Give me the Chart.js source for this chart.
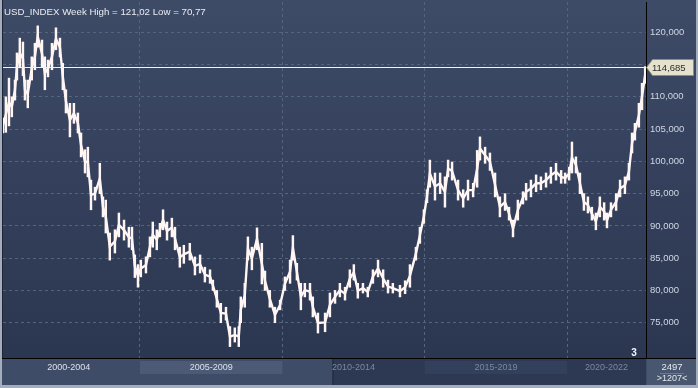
<!DOCTYPE html>
<html>
<head>
<meta charset="utf-8">
<script src="https://cdn.jsdelivr.net/npm/chart.js@4/dist/chart.umd.min.js"></script>
<style>
html,body{margin:0;padding:0;background:#2c3751;}
#wrap{width:698px;height:388px;position:relative;}
</style>
</head>
<body>
<div id="wrap"><canvas id="c" width="698" height="388"></canvas></div>
<script>
// ---- data (weekly USD index, high/low envelope) ----
const years = [2000.19,2000.29,2000.40,2000.50,2000.61,2000.68,2000.78,2000.89,2000.96,2001.06,2001.20,2001.31,2001.41,2001.56,2001.66,2001.77,2001.91,2002.05,2002.19,2002.29,2002.40,2002.54,2002.68,2002.82,2002.93,2003.07,2003.17,2003.28,2003.42,2003.59,2003.70,2003.80,2003.94,2004.12,2004.26,2004.44,2004.61,2004.72,2004.82,2004.93,2005.03,2005.21,2005.35,2005.45,2005.59,2005.70,2005.81,2005.95,2006.12,2006.23,2006.40,2006.54,2006.75,2006.93,2007.11,2007.28,2007.46,2007.56,2007.70,2007.84,2008.02,2008.16,2008.33,2008.47,2008.54,2008.68,2008.79,2008.93,2009.11,2009.28,2009.39,2009.56,2009.74,2009.92,2010.09,2010.27,2010.37,2010.51,2010.65,2010.79,2010.97,2011.07,2011.25,2011.50,2011.67,2011.85,2012.02,2012.20,2012.37,2012.51,2012.65,2012.83,2013.00,2013.18,2013.36,2013.54,2013.71,2013.88,2014.13,2014.31,2014.48,2014.69,2014.83,2014.97,2015.08,2015.18,2015.36,2015.54,2015.71,2015.82,2015.96,2016.17,2016.35,2016.52,2016.70,2016.84,2016.94,2017.12,2017.29,2017.47,2017.64,2017.82,2017.96,2018.10,2018.27,2018.45,2018.56,2018.73,2018.91,2019.08,2019.26,2019.43,2019.61,2019.79,2019.93,2020.07,2020.17,2020.31,2020.45,2020.59,2020.73,2020.87,2021.01,2021.15,2021.30,2021.40,2021.54,2021.72,2021.86,2022.03,2022.17,2022.28,2022.38,2022.52,2022.63,2022.74];
const highs = [106.7,110.0,112.9,110.0,112.6,116.8,119.1,118.5,112.6,112.6,116.2,118.3,121.0,118.8,116.2,115.7,118.3,120.7,119.1,115.2,111.1,109.0,109.0,107.5,104.4,101.8,102.2,97.1,96.0,99.7,94.5,94.0,88.9,89.4,92.0,90.9,89.8,89.8,85.5,84.0,84.7,85.2,88.3,90.6,89.4,90.4,92.5,90.6,91.2,89.8,86.7,87.0,87.3,85.2,85.5,83.6,83.2,81.6,80.0,78.0,77.4,74.4,74.2,74.4,79.0,81.1,88.3,86.7,89.7,87.3,83.0,80.0,77.4,78.5,82.1,84.7,88.5,84.2,81.1,81.1,81.1,79.0,76.5,76.5,79.6,80.0,81.1,80.5,83.2,84.0,81.1,81.1,80.5,83.2,84.7,83.2,81.6,81.1,80.8,81.5,84.0,86.7,89.8,92.5,95.6,100.2,98.2,98.2,97.6,100.2,99.9,97.1,95.6,97.1,96.6,101.7,103.8,102.2,101.3,98.2,94.5,95.0,92.9,90.9,94.0,95.3,96.6,97.1,97.9,97.6,98.2,99.1,99.7,98.6,98.2,99.1,103.0,100.7,98.2,95.0,94.5,92.9,92.0,94.5,93.6,92.0,93.6,95.0,97.1,97.6,99.7,104.4,105.9,109.0,112.1,114.69];
const lows = [104.4,104.5,105.5,106.9,109.5,112.6,114.5,113.3,109.5,108.3,112.6,114.2,117.7,114.6,111.1,113.1,114.2,117.3,116.2,111.1,107.5,103.8,105.9,104.4,100.7,98.2,97.6,92.5,94.0,95.0,91.4,88.9,84.7,85.8,88.3,87.8,86.7,86.3,82.0,80.5,82.1,82.7,85.2,86.7,86.3,88.3,89.4,87.8,88.3,86.3,83.6,84.2,84.7,82.4,82.7,81.3,81.1,80.0,77.4,75.0,75.4,71.3,72.0,71.3,75.0,77.4,84.7,83.2,86.3,81.0,80.0,77.4,75.0,77.0,80.0,81.1,84.7,81.6,77.0,79.0,78.5,75.9,73.4,73.6,75.9,78.0,79.0,78.5,80.5,81.6,78.8,79.6,79.0,81.1,82.1,80.5,79.6,79.6,79.0,79.5,80.5,84.7,87.3,90.4,93.6,96.0,94.0,95.0,92.9,97.6,97.1,94.0,92.9,94.0,94.5,96.0,100.2,99.7,98.6,94.5,91.4,92.4,90.9,88.3,90.9,93.4,94.0,94.5,95.3,95.6,96.0,96.6,97.1,96.6,96.6,97.1,98.2,98.2,95.0,92.4,92.0,90.9,89.4,91.4,90.9,89.7,91.4,92.4,94.5,95.0,97.1,101.3,103.3,105.3,108.0,112.1];
const priceTicks = [75,80,85,90,95,100,105,110,115,120];
const periodLabels = ['2000-2004','2005-2009','2010-2014','2015-2019','2020-2022'];
const periodStarts = [2000,2005,2010,2015,2020];
const periodEnds = [2005,2010,2015,2020,2022.77];
const lastValue = 114.685;
const lastLabel = '114,685';
const titleText = 'USD_INDEX Week High = 121,02 Low = 70,77';
const counterTop = '2497';
const counterBottom = '>1207<';
const markerText = '3';

const FONT = '"Liberation Sans", Arial, sans-serif';
const INK = '#fff6f4';

const decor = {
  id: 'decor',
  beforeDraw(chart) {
    const ctx = chart.ctx, W = chart.width, H = chart.height, ca = chart.chartArea;
    const xs = chart.scales.x;
    ctx.save();
    const g = ctx.createLinearGradient(0, 0, 0, ca.bottom);
    g.addColorStop(0, '#3e4b67');
    g.addColorStop(1, '#2b3650');
    ctx.fillStyle = g;
    ctx.fillRect(0, 0, W, ca.bottom);
    ctx.fillStyle = '#3f4c67';
    ctx.fillRect(0, ca.bottom, W, H - ca.bottom);
    const darkStart = xs.getPixelForValue(2011.76);
    ctx.fillStyle = '#2d3852';
    ctx.fillRect(darkStart, ca.bottom, ca.right - darkStart, H - ca.bottom);
    ctx.fillStyle = '#1f283c';
    ctx.fillRect(darkStart, ca.bottom, 1, H - ca.bottom);
    ctx.fillStyle = '#4c5a75';
    ctx.fillRect(xs.getPixelForValue(periodStarts[1]), ca.bottom + 3, xs.getPixelForValue(periodEnds[1]) - xs.getPixelForValue(periodStarts[1]), 13);
    ctx.fillStyle = '#33405b';
    ctx.fillRect(xs.getPixelForValue(periodStarts[3]), ca.bottom + 3, xs.getPixelForValue(periodEnds[3]) - xs.getPixelForValue(periodStarts[3]), 13);
    ctx.fillStyle = '#48566f';
    ctx.fillRect(ca.right + 1, ca.bottom, W - ca.right - 1, H - ca.bottom);
    ctx.restore();
  },
  afterDatasetsDraw(chart) {
    const ctx = chart.ctx, ca = chart.chartArea;
    const y = Math.round(chart.scales.y.getPixelForValue(lastValue)) + 0.5;
    ctx.save();
    ctx.strokeStyle = '#f2f2ee';
    ctx.lineWidth = 1.2;
    ctx.beginPath();
    ctx.moveTo(ca.left, y);
    ctx.lineTo(ca.right, y);
    ctx.stroke();
    ctx.restore();
  },
  afterDraw(chart) {
    const ctx = chart.ctx, W = chart.width, H = chart.height, ca = chart.chartArea;
    const xs = chart.scales.x;
    ctx.save();
    ctx.font = '9.7px ' + FONT;
    ctx.fillStyle = '#e9edf3';
    ctx.textBaseline = 'middle';
    ctx.textAlign = 'left';
    ctx.fillText(titleText, 4, 12);
    ctx.fillStyle = '#000';
    ctx.fillRect(0, ca.bottom, W, 1);
    ctx.font = '9px ' + FONT;
    ctx.textAlign = 'center';
    periodLabels.forEach((t, i) => {
      const x1 = xs.getPixelForValue(periodEnds[i]);
      ctx.fillStyle = i < 2 ? '#dbe1ea' : '#7d889d';
      ctx.fillText(t, (xs.getPixelForValue(periodStarts[i]) + x1) / 2, ca.bottom + 10);
    });
    ctx.fillStyle = '#e3e8ef';
    const cx = (ca.right + W) / 2;
    ctx.font = '9.5px ' + FONT;
    ctx.fillText(counterTop, cx, ca.bottom + 9);
    ctx.fillStyle = '#6c7890';
    ctx.fillRect(cx - 12, ca.bottom + 15, 24, 1);
    ctx.fillStyle = '#e3e8ef';
    ctx.font = '9px ' + FONT;
    ctx.fillText(counterBottom, cx, ca.bottom + 21);
    ctx.font = 'bold 10px ' + FONT;
    ctx.fillStyle = '#f3f5f8';
    ctx.fillText(markerText, ca.right - 12, ca.bottom - 5);
    const y = Math.round(chart.scales.y.getPixelForValue(lastValue)) + 0.5;
    ctx.beginPath();
    ctx.moveTo(ca.right + 0.5, y);
    ctx.lineTo(ca.right + 6.5, y - 8);
    ctx.lineTo(W - 4.5, y - 8);
    ctx.lineTo(W - 4.5, y + 8);
    ctx.lineTo(ca.right + 6.5, y + 8);
    ctx.closePath();
    ctx.fillStyle = '#e4e2cd';
    ctx.fill();
    ctx.strokeStyle = '#8d8c7e';
    ctx.lineWidth = 1;
    ctx.stroke();
    ctx.fillStyle = '#2b2b2b';
    ctx.font = '9.5px ' + FONT;
    ctx.textAlign = 'left';
    ctx.fillText(lastLabel, ca.right + 6, y + 1);
    ctx.fillStyle = '#a3adbc';
    ctx.fillRect(0, 0, 2, H);
    ctx.fillRect(W - 2, 0, 2, H);
    ctx.fillRect(0, H - 3, W, 3);
    ctx.fillStyle = '#1d2539';
    ctx.fillRect(2, 0, 1, ca.bottom);
    ctx.restore();
  }
};

const ranges = years.map((x, i) => ({ x, y: [lows[i], highs[i]] }));
const mids = years.map((x, i) => ({ x, y: (lows[i] + highs[i]) / 2 }));

new Chart(document.getElementById('c'), {
  type: 'bar',
  data: {
    datasets: [
      { type: 'line', label: 'Week', data: mids, borderColor: INK, borderWidth: 2.4, pointRadius: 0, fill: false, tension: 0, order: 1 },
      { type: 'bar', label: 'Range', data: ranges, backgroundColor: INK, borderWidth: 0, barThickness: 1.8, order: 2 }
    ]
  },
  options: {
    responsive: false,
    animation: false,
    events: [],
    layout: { padding: { left: 3, top: 2, right: 0, bottom: 0 } },
    plugins: { legend: { display: false }, tooltip: { enabled: false }, title: { display: false } },
    scales: {
      x: {
        type: 'linear',
        offset: false,
        min: 2000.19,
        max: 2022.77,
        afterBuildTicks: (s) => { s.ticks = periodStarts.slice(1).map(v => ({ value: v })); },
        afterFit: (s) => { s.height = 30; s.paddingLeft = 0; s.paddingRight = 0; },
        ticks: { display: false },
        grid: { color: '#56647e', drawTicks: false, lineWidth: 1, offset: false },
        border: { display: true, color: '#000', width: 1, dash: [3, 3] }
      },
      y: {
        position: 'right',
        min: 69.53,
        max: 124.7,
        afterBuildTicks: (s) => { s.ticks = priceTicks.map(v => ({ value: v })); },
        afterFit: (s) => { s.width = 52; s.paddingTop = 0; s.paddingBottom = 0; },
        ticks: {
          padding: 4,
          color: '#cfd7e3',
          font: { family: FONT, size: 9.5 },
          callback: (v) => v.toFixed(3).replace('.', ',')
        },
        grid: { color: '#56647e', drawTicks: false, lineWidth: 1 },
        border: { display: true, color: '#000', width: 1, dash: [3, 3] }
      }
    }
  },
  plugins: [decor]
});
</script>
</body>
</html>
